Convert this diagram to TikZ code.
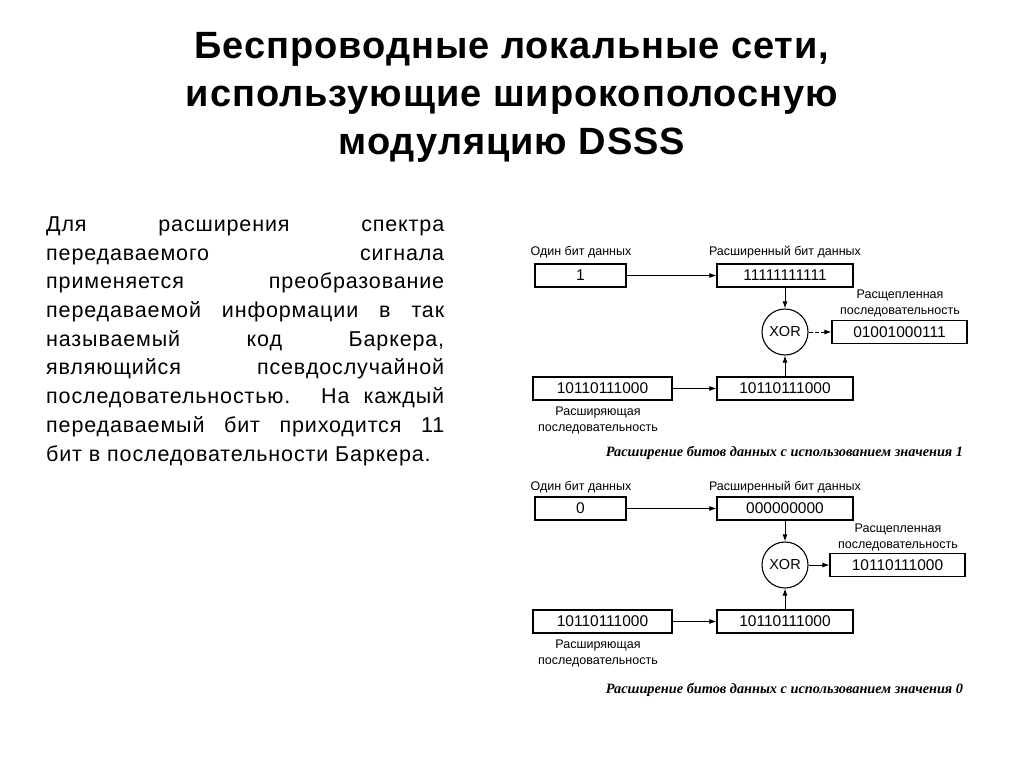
\documentclass[tikz,border=0pt]{standalone}
\usepackage{fontspec}
\setmainfont{Liberation Sans}
\newfontfamily\titlefont[LetterSpace=2.5]{Liberation Sans}
\newfontfamily\bodyfont[LetterSpace=4]{Liberation Sans}
\newfontfamily\capfont{Liberation Serif}
\usetikzlibrary{arrows.meta}

\begin{document}
\begin{tikzpicture}[>={Latex[length=7pt,width=5pt]}, x=1pt, y=-1pt,
  title/.style={inner sep=0pt, align=center, font=\titlefont\bfseries\fontsize{38}{48}\selectfont},
  box/.style={draw, line width=1.1pt, inner sep=0pt, minimum height=23pt, font=\fontsize{15.5}{16}\selectfont},
  lbl/.style={inner sep=0pt, align=center, font=\fontsize{12.5}{16}\selectfont},
  xorc/.style={draw, circle, line width=1.1pt, minimum size=46pt, inner sep=0pt, font=\fontsize{14.5}{14}\selectfont},
  figcap/.style={inner sep=0pt, font=\capfont\bfseries\itshape\fontsize{14.3}{16}\selectfont},
  link/.style={->, line width=1pt}]
  \useasboundingbox (0,0) rectangle (1024,767);

  \node[title] (head) at (512,97.5) {Беспроводные локальные сети,\\использующие широкополосную\\модуляцию DSSS};
  \node[anchor=north west, inner sep=0pt, align=left, font=\bodyfont\fontsize{21.5}{28.7}\selectfont] (body) at (46,216.5)
    {\makebox[398pt][s]{Для расширения спектра}\\
     \makebox[398pt][s]{передаваемого сигнала}\\
     \makebox[398pt][s]{применяется преобразование}\\
     \makebox[398pt][s]{передаваемой информации в так}\\
     \makebox[398pt][s]{называемый код Баркера,}\\
     \makebox[398pt][s]{являющийся псевдослучайной}\\
     \makebox[398pt][s]{последовательностью. На каждый}\\
     \makebox[398pt][s]{передаваемый бит приходится 11}\\
     бит в последовательности Баркера.};

  % value 1
  \node[lbl] (labonea) at (581,252) {Один бит данных};
  \node[box, minimum width=91pt] (onea) at (580.5,275.5) {1};
  \node[lbl] (labwidea) at (785,252) {Расширенный бит данных};
  \node[box, minimum width=136pt] (widea) at (785,275.5) {11111111111};
  \node[xorc] (xora) at (785,332) {XOR};
  \node[lbl] (labouta) at (900,303) {Расщепленная\\последовательность};
  \node[box, minimum width=135pt] (outa) at (899.5,332) {01001000111};
  \node[box, minimum width=139pt] (seqa) at (602.5,388.5) {10110111000};
  \node[box, minimum width=136pt] (spra) at (785,388.5) {10110111000};
  \node[lbl] (labseqa) at (598,420) {Расширяющая\\последовательность};
  \node[figcap] (capa) at (784.5,453) {Расширение битов данных с использованием значения 1};
  \draw[link] (onea) -- (widea);
  \draw[link] (widea) -- (xora);
  \draw[link, dash pattern=on 4pt off 2pt] (xora) -- (outa);
  \draw[link] (seqa) -- (spra);
  \draw[link] (spra) -- (xora);

  % value 0
  \node[lbl] (laboneb) at (581,487) {Один бит данных};
  \node[box, minimum width=91pt] (oneb) at (580.5,508.5) {0};
  \node[lbl] (labwideb) at (785,487) {Расширенный бит данных};
  \node[box, minimum width=136pt] (wideb) at (785,508.5) {000000000};
  \node[xorc] (xorb) at (785,565) {XOR};
  \node[lbl] (laboutb) at (898,537) {Расщепленная\\последовательность};
  \node[box, minimum width=135pt] (outb) at (897.5,565) {10110111000};
  \node[box, minimum width=139pt] (seqb) at (602.5,621.5) {10110111000};
  \node[box, minimum width=136pt] (sprb) at (785,621.5) {10110111000};
  \node[lbl] (labseqb) at (598,653) {Расширяющая\\последовательность};
  \node[figcap] (capb) at (784.5,690) {Расширение битов данных с использованием значения 0};
  \draw[link] (oneb) -- (wideb);
  \draw[link] (wideb) -- (xorb);
  \draw[link] (xorb) -- (outb);
  \draw[link] (seqb) -- (sprb);
  \draw[link] (sprb) -- (xorb);
\end{tikzpicture}
\end{document}
